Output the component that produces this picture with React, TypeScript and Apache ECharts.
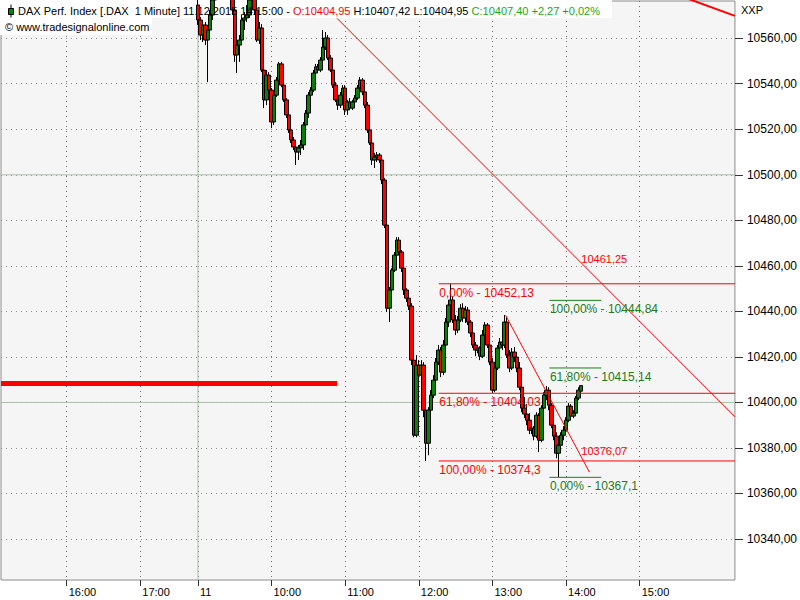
import React, { useEffect, useRef } from 'react';
import * as echarts from 'echarts';

// ---- data (minutes after 09:00 on 11.12.2015; previous-day session shown to the left) ----
const barMinutes = 2; // candles every 2 minutes starting 09:00
const ohlc: number[][] = [
  [10574.6, 10568.0, 10565.8, 10577.5],
  [10568.0, 10561.4, 10559.2, 10569.3],
  [10561.4, 10565.8, 10558.3, 10568.0],
  [10565.8, 10559.2, 10557.0, 10567.1],
  [10559.2, 10563.6, 10540.7, 10564.5],
  [10563.6, 10570.2, 10561.4, 10572.4],
  [10570.2, 10576.8, 10568.0, 10579.5],
  [10576.8, 10581.5, 10575.0, 10583.0],
  [10581.5, 10585.0, 10580.0, 10587.0],
  [10585.0, 10583.0, 10581.0, 10588.0],
  [10583.0, 10587.5, 10582.0, 10590.0],
  [10587.5, 10586.0, 10584.5, 10589.5],
  [10586.0, 10583.0, 10581.5, 10587.0],
  [10583.0, 10579.5, 10578.0, 10584.0],
  [10579.5, 10572.4, 10570.2, 10580.5],
  [10572.4, 10552.6, 10549.6, 10574.6],
  [10552.6, 10557.0, 10544.7, 10559.2],
  [10557.0, 10559.2, 10549.6, 10561.4],
  [10559.2, 10568.0, 10557.0, 10570.2],
  [10568.0, 10568.9, 10563.6, 10571.5],
  [10568.9, 10570.2, 10567.1, 10574.6],
  [10570.2, 10576.8, 10568.9, 10579.0],
  [10576.8, 10579.0, 10575.5, 10581.0],
  [10579.0, 10572.4, 10570.2, 10580.0],
  [10572.4, 10559.2, 10558.3, 10575.0],
  [10559.2, 10564.5, 10557.5, 10567.1],
  [10564.5, 10546.0, 10545.1, 10566.2],
  [10546.0, 10532.9, 10529.3, 10546.9],
  [10532.9, 10543.8, 10530.6, 10546.0],
  [10543.8, 10537.2, 10536.4, 10545.1],
  [10537.2, 10523.2, 10520.5, 10538.1],
  [10523.2, 10535.0, 10521.9, 10536.4],
  [10535.0, 10541.6, 10534.2, 10543.0],
  [10541.6, 10548.7, 10540.7, 10549.6],
  [10548.7, 10539.4, 10538.5, 10549.6],
  [10539.4, 10532.9, 10532.0, 10540.3],
  [10532.9, 10526.3, 10525.0, 10533.7],
  [10526.3, 10519.7, 10518.4, 10527.1],
  [10519.7, 10515.3, 10514.0, 10520.5],
  [10515.3, 10512.2, 10510.9, 10516.6],
  [10512.2, 10510.0, 10504.3, 10513.1],
  [10510.0, 10511.8, 10506.5, 10513.1],
  [10511.8, 10513.1, 10508.7, 10515.3],
  [10513.1, 10521.9, 10510.9, 10523.2],
  [10521.9, 10527.1, 10520.5, 10528.5],
  [10527.1, 10535.0, 10525.0, 10536.4],
  [10535.0, 10537.2, 10533.7, 10538.5],
  [10537.2, 10544.7, 10536.4, 10546.0],
  [10544.7, 10547.4, 10543.0, 10548.7],
  [10547.4, 10546.0, 10544.7, 10548.7],
  [10546.0, 10550.4, 10545.1, 10551.7],
  [10550.4, 10556.1, 10549.6, 10563.6],
  [10556.1, 10560.1, 10554.8, 10562.7],
  [10560.1, 10551.3, 10550.4, 10561.4],
  [10551.3, 10546.0, 10545.1, 10552.6],
  [10546.0, 10539.4, 10538.1, 10547.4],
  [10539.4, 10532.9, 10532.0, 10540.7],
  [10532.9, 10530.6, 10528.5, 10533.7],
  [10530.6, 10535.0, 10529.3, 10536.4],
  [10535.0, 10538.1, 10533.7, 10539.4],
  [10538.1, 10528.5, 10526.3, 10539.4],
  [10528.5, 10532.0, 10526.3, 10532.9],
  [10532.0, 10529.3, 10528.5, 10533.7],
  [10529.3, 10532.0, 10528.5, 10532.9],
  [10532.0, 10533.7, 10530.6, 10535.0],
  [10533.7, 10538.1, 10532.9, 10539.4],
  [10538.1, 10541.6, 10536.4, 10543.0],
  [10541.6, 10536.4, 10535.0, 10542.5],
  [10536.4, 10530.6, 10529.3, 10537.2],
  [10530.6, 10519.7, 10518.4, 10532.0],
  [10519.7, 10514.0, 10513.1, 10520.5],
  [10514.0, 10506.5, 10504.3, 10515.3],
  [10506.5, 10507.8, 10503.0, 10509.6],
  [10507.8, 10508.7, 10505.6, 10510.0],
  [10508.7, 10506.5, 10505.2, 10509.6],
  [10506.5, 10497.7, 10495.9, 10507.8],
  [10497.7, 10477.9, 10476.6, 10498.6],
  [10477.9, 10441.4, 10439.7, 10479.2],
  [10441.4, 10449.4, 10435.3, 10450.7],
  [10449.4, 10458.1, 10448.5, 10459.0],
  [10458.1, 10464.7, 10457.3, 10466.1],
  [10464.7, 10471.3, 10463.9, 10472.6],
  [10471.3, 10466.1, 10464.7, 10472.6],
  [10466.1, 10459.0, 10457.3, 10466.9],
  [10459.0, 10449.4, 10447.2, 10460.3],
  [10449.4, 10445.8, 10444.1, 10450.2],
  [10445.8, 10442.3, 10440.6, 10447.2],
  [10442.3, 10418.6, 10416.4, 10443.6],
  [10418.6, 10385.6, 10384.7, 10420.8],
  [10385.6, 10416.4, 10384.7, 10420.8],
  [10416.4, 10412.0, 10409.8, 10418.6],
  [10412.0, 10416.4, 10410.7, 10418.6],
  [10416.4, 10396.6, 10393.5, 10417.7],
  [10396.6, 10382.1, 10374.3, 10397.9],
  [10382.1, 10396.6, 10376.8, 10397.9],
  [10396.6, 10403.2, 10395.7, 10405.4],
  [10403.2, 10409.8, 10401.9, 10412.0],
  [10409.8, 10417.7, 10408.5, 10419.5],
  [10417.7, 10423.0, 10416.4, 10425.2],
  [10423.0, 10413.3, 10411.1, 10424.3],
  [10413.3, 10425.2, 10412.0, 10427.4],
  [10425.2, 10435.3, 10423.9, 10437.1],
  [10435.3, 10442.8, 10433.1, 10445.0],
  [10442.8, 10445.0, 10440.6, 10452.13],
  [10445.0, 10436.2, 10434.9, 10446.3],
  [10436.2, 10431.8, 10429.6, 10438.4],
  [10431.8, 10436.2, 10430.5, 10438.0],
  [10436.2, 10441.4, 10435.3, 10443.2],
  [10441.4, 10437.1, 10435.3, 10443.6],
  [10437.1, 10440.6, 10434.9, 10442.3],
  [10440.6, 10435.3, 10434.0, 10441.9],
  [10435.3, 10430.5, 10428.7, 10436.2],
  [10430.5, 10425.2, 10423.9, 10431.8],
  [10425.2, 10423.0, 10420.3, 10426.5],
  [10423.0, 10423.9, 10421.6, 10425.2],
  [10423.9, 10420.3, 10418.6, 10424.7],
  [10420.3, 10429.6, 10419.5, 10431.8],
  [10429.6, 10434.0, 10427.4, 10435.3],
  [10434.0, 10425.2, 10423.9, 10434.9],
  [10425.2, 10417.7, 10416.4, 10426.1],
  [10417.7, 10405.4, 10404.1, 10419.5],
  [10405.4, 10415.1, 10404.5, 10416.4],
  [10415.1, 10423.9, 10414.2, 10425.2],
  [10423.9, 10426.5, 10422.1, 10428.3],
  [10426.5, 10425.2, 10423.0, 10428.3],
  [10425.2, 10435.3, 10423.9, 10438.4],
  [10435.3, 10420.8, 10419.5, 10437.5],
  [10420.8, 10415.1, 10413.3, 10423.0],
  [10415.1, 10422.1, 10414.2, 10423.9],
  [10422.1, 10419.9, 10417.7, 10424.3],
  [10419.9, 10415.1, 10413.3, 10420.8],
  [10415.1, 10406.7, 10405.4, 10417.7],
  [10406.7, 10397.5, 10395.7, 10408.5],
  [10397.5, 10394.9, 10393.1, 10402.3],
  [10394.9, 10392.2, 10390.0, 10399.3],
  [10392.2, 10387.8, 10386.1, 10395.3],
  [10387.8, 10388.7, 10386.1, 10390.5],
  [10388.7, 10385.2, 10383.4, 10389.6],
  [10385.2, 10394.4, 10384.3, 10395.7],
  [10394.4, 10383.4, 10378.2, 10395.3],
  [10383.4, 10397.5, 10382.5, 10398.8],
  [10397.5, 10403.2, 10396.6, 10404.5],
  [10403.2, 10405.4, 10401.0, 10407.2],
  [10405.4, 10398.8, 10396.6, 10406.7],
  [10398.8, 10390.0, 10388.7, 10399.7],
  [10390.0, 10385.2, 10383.4, 10391.3],
  [10385.2, 10377.7, 10375.5, 10386.9],
  [10377.7, 10381.2, 10367.1, 10382.5],
  [10381.2, 10385.6, 10379.9, 10386.9],
  [10385.6, 10387.8, 10383.4, 10389.6],
  [10387.8, 10392.2, 10386.5, 10393.5],
  [10392.2, 10398.4, 10391.3, 10399.7],
  [10398.4, 10394.0, 10392.2, 10399.3],
  [10394.0, 10395.3, 10393.1, 10396.6],
  [10395.3, 10401.9, 10394.4, 10402.8],
  [10401.9, 10405.4, 10401.0, 10406.7],
  [10404.95, 10407.40, 10404.95, 10407.42],
];

const timeTickMinutes = [-107, -47, 0, 60, 120, 180, 240, 300, 360];
const timeTickLabels = ['16:00', '17:00', '11', '10:00', '11:00', '12:00', '13:00', '14:00', '15:00'];
const daySeparatorMinute = 0;
const priceTicks = [10340, 10360, 10380, 10400, 10420, 10440, 10460, 10480, 10500, 10520, 10540, 10560];
const solidPriceLines = [10400, 10500];

// drawings (minute, price)
const supportLine = [[-160.5, 10408.3], [113.4, 10408.3]];
const trendLineA = [[113.4, 10568.7], [437.6, 10393.7]];
const trendLineAValue = 10461.25;
const trendLineB = [[250.7, 10438.3], [319, 10369.4]];
const trendLineBValue = 10376.07;
const trendLineC = [[400, 10577.2], [437.6, 10569.8]];
const labelMinute = 312;

const redFibPercents = ['0,00%', '61,80%', '100,00%'];
const redFibValues = [10452.13, 10404.03, 10374.3];
const redFibRange = [196.2, 437.6];
const greenFibPercents = ['100,00%', '61,80%', '0,00%'];
const greenFibValues = [10444.84, 10415.14, 10367.1];
const greenFibRange = [286.4, 328.7];

const X_MIN = -160.5;
const X_MAX = 437.6;
const Y_MIN = 10322.0;
const Y_MAX = 10576.35;

const FONT = 'Liberation Sans';
const RED = '#ff0000';
const GREEN_TXT = '#1e7b1e';
const DOT_H = { color: '#8c8c8c', width: 1, type: [1, 4] };
const DOT_V = { color: '#6e6e6e', width: 1, type: [1, 4] };
const SOLID = { color: '#a9c2a9', width: 1 };
const comma = (v: number) => String(v).replace('.', ',');

export default function App() {
  const ref = useRef<HTMLDivElement>(null);
  useEffect(() => {
    if (!ref.current) return;
    const chart = echarts.init(ref.current, undefined, { renderer: 'svg' });

    const gridSeries: any[] = [];
    gridSeries.push({
      type: 'line', silent: true, z: 1, symbol: 'none', animation: false,
      data: [[daySeparatorMinute, Y_MIN], [daySeparatorMinute, Y_MAX]],
      lineStyle: SOLID,
    });
    solidPriceLines.forEach((v) => {
      gridSeries.push({
        type: 'line', silent: true, z: 1, symbol: 'none', animation: false,
        data: [[X_MIN, v], [X_MAX, v]],
        lineStyle: SOLID,
      });
    });

    const mkLabel = (coord: number[], text: string, color: string, dy: number, size: number) => ({
      coord,
      symbol: 'circle',
      symbolSize: 1,
      itemStyle: { color: 'rgba(0,0,0,0)' },
      label: {
        show: true, formatter: text, position: 'right', distance: 0, offset: [0, dy],
        color, fontSize: size, fontFamily: FONT,
      },
    });

    const lineSeries = (data: number[][], color: string, width: number, labels: any[] = []) => ({
      type: 'line', silent: true, z: 4, symbol: 'none', animation: false,
      data, lineStyle: { color, width },
      markPoint: labels.length ? { silent: true, animation: false, data: labels } : undefined,
    });

    const fibSeries: any[] = [];
    redFibValues.forEach((v, i) => {
      fibSeries.push(lineSeries([[redFibRange[0], v], [redFibRange[1], v]], RED, 1,
        [mkLabel([redFibRange[0], v], `${redFibPercents[i]} - ${comma(v)}`, RED, 9, 12)]));
    });
    greenFibValues.forEach((v, i) => {
      fibSeries.push(lineSeries([[greenFibRange[0], v], [greenFibRange[1], v]], '#1a801a', 1,
        [mkLabel([greenFibRange[0], v], `${greenFibPercents[i]} - ${comma(v)}`, GREEN_TXT, 9, 12)]));
    });

    const candleData = ohlc.map((r, i) => [i * barMinutes, r[0], r[1], r[2], r[3]]);

    chart.setOption({
      animation: false,
      backgroundColor: '#ffffff',
      grid: { left: 1, top: 1, right: 63, bottom: 20, show: true, backgroundColor: '#f5f5f5', borderColor: '#8c8c8c', borderWidth: 1 },
      xAxis: {
        type: 'value', min: X_MIN, max: X_MAX,
        axisLine: { show: false, onZero: false },
        splitLine: { show: true, lineStyle: DOT_V },
        axisTick: { show: true, customValues: timeTickMinutes, length: 6, lineStyle: { color: '#333' } },
        axisLabel: {
          customValues: timeTickMinutes,
          formatter: (v: number) => timeTickLabels[timeTickMinutes.indexOf(v)] ?? '',
          align: 'left', margin: 6, padding: [0, 0, 0, 2],
          fontSize: 11, fontFamily: FONT, color: '#000',
        },
      },
      yAxis: {
        type: 'value', position: 'right', min: Y_MIN, max: Y_MAX,
        axisLine: { show: false, onZero: false },
        splitLine: { show: true, lineStyle: DOT_H },
        axisTick: { show: true, customValues: priceTicks, length: 8, lineStyle: { color: '#333' } },
        axisLabel: {
          customValues: priceTicks,
          formatter: (v: number) => v.toFixed(2).replace('.', ','),
          margin: 12, fontSize: 12, fontFamily: FONT, color: '#000',
        },
      },
      series: [
        ...gridSeries,
        {
          type: 'candlestick', z: 3, silent: true, animation: false,
          data: candleData,
          encode: { x: 0, y: [1, 2, 3, 4] },
          barWidth: 4,
          itemStyle: {
            color: '#0a800a', color0: '#ff0000',
            borderColor: '#000000', borderColor0: '#000000', borderColorDoji: '#000000',
            borderWidth: 1,
          },
        },
        lineSeries(supportLine, RED, 5),
        lineSeries(trendLineA, RED, 1, [mkLabel([labelMinute, trendLineAValue], comma(trendLineAValue), RED, -4, 11)]),
        lineSeries(trendLineB, RED, 1, [mkLabel([labelMinute, trendLineBValue], comma(trendLineBValue), RED, -6, 11)]),
        lineSeries(trendLineC, RED, 2),
        ...fibSeries,
      ],
      graphic: [
        { type: 'rect', z: 2, silent: true, shape: { x: 0, y: 0, width: 612, height: 18 }, style: { fill: '#ffffff' } },
        { type: 'rect', z: 2, silent: true, shape: { x: 0, y: 18, width: 152, height: 17 }, style: { fill: '#ffffff' } },
        { type: 'line', z: 10, silent: true, shape: { x1: 11, y1: 4.5, x2: 11, y2: 17.5 }, style: { stroke: '#000', lineWidth: 1 } },
        { type: 'rect', z: 10, silent: true, shape: { x: 8.5, y: 8.5, width: 5, height: 6 }, style: { fill: '#0a800a', stroke: '#000', lineWidth: 1 } },
        {
          type: 'text', z: 10, silent: true, x: 18, y: 11,
          style: {
            text: '{k|DAX Perf. Index [.DAX  1 Minute] 11.12.2015 14:15:00 - }{r|O:10404,95}{k| H:10407,42 L:10404,95 }{g|C:10407,40 +2,27 +0,02%}',
            verticalAlign: 'middle',
            font: `11px "${FONT}"`,
            rich: {
              k: { fill: '#000', fontSize: 11, fontFamily: FONT },
              r: { fill: '#ff0000', fontSize: 11, fontFamily: FONT },
              g: { fill: '#18a818', fontSize: 11, fontFamily: FONT },
            },
          },
        },
        {
          type: 'text', z: 10, silent: true, x: 5, y: 27,
          style: { text: '© www.tradesignalonline.com', verticalAlign: 'middle', fill: '#000', font: `11px "${FONT}"` },
        },
        {
          type: 'text', z: 10, silent: true, x: 741, y: 10,
          style: { text: 'XXP', verticalAlign: 'middle', fill: '#000', font: `11px "${FONT}"` },
        },
      ],
    });
    return () => chart.dispose();
  }, []);
  return <div ref={ref} style={{ position: 'fixed', left: 0, top: 0, width: 800, height: 600 }} />;
}
